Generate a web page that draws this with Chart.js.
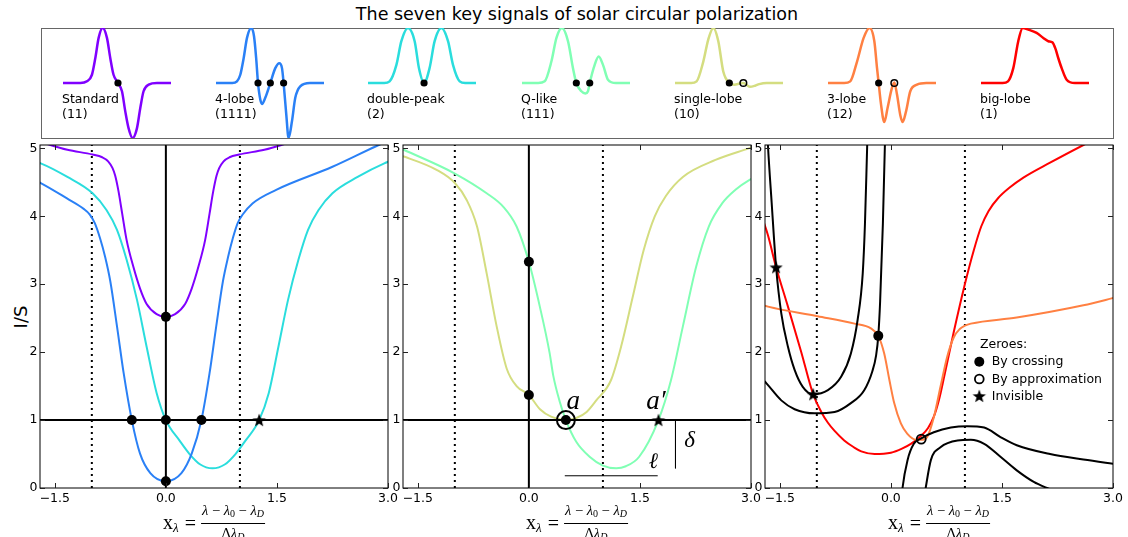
<!DOCTYPE html>
<html><head><meta charset="utf-8">
<script src="https://cdn.jsdelivr.net/npm/chart.js@4/dist/chart.umd.min.js"></script>
<style>
html,body{margin:0;padding:0;background:#fff;}
#root{position:relative;width:1128px;height:537px;overflow:hidden;font-family:"DejaVu Sans",sans-serif;color:#000;}
canvas{position:absolute;}
.title{position:absolute;left:577px;top:4px;transform:translateX(-50%);font-size:17.5px;white-space:nowrap;}
.box{position:absolute;left:41px;top:27.5px;width:1072.5px;height:111.5px;border:1.5px solid #666;box-sizing:border-box;}
.sl{position:absolute;font-size:12.5px;line-height:14.5px;white-space:pre;top:92px;}
.ylab{position:absolute;left:19.5px;top:317px;transform:translate(-50%,-50%) rotate(-90deg);font-size:18px;white-space:nowrap;}
.xlab{position:absolute;top:502px;transform:translateX(-50%);display:flex;align-items:center;font-family:"Liberation Serif","DejaVu Serif",serif;white-space:nowrap;}
.lhs{font-size:20px;}
.lhs sub{font-size:13px;font-style:italic;vertical-align:-3px;}
.eq{font-size:20px;margin:0 5px 0 6px;}
.frac{display:inline-flex;flex-direction:column;align-items:center;font-size:14.5px;line-height:16px;}
.frac sub{font-size:10px;vertical-align:-2px;}
.num{border-bottom:1.4px solid #000;padding:0 1px 1px;}
.den{padding-top:1px;}
</style></head>
<body><div id="root">
<div class="title">The seven key signals of solar circular polarization</div>
<div class="box"></div>
<div class="ylab">I/S</div>
</div>
<script>
// ---------------- DATA ----------------
const sigNames = ["Standard", "4-lobe", "double-peak", "Q-like", "single-lobe", "3-lobe", "big-lobe"];
const sigCodes = ["(11)", "(1111)", "(2)", "(111)", "(10)", "(12)", "(1)"];
const sigColors = ["#8000ff", "#2a80f6", "#2adddd", "#80ffb4", "#d4dd80", "#ff8042", "#ff0000"];

const stdU = [0, 0.16, 0.222, 0.268, 0.299, 0.33, 0.367, 0.407, 0.438, 0.468, 0.509, 0.546, 0.577, 0.607, 0.644, 0.685, 0.716, 0.746, 0.793, 0.87, 1];
const stdV = [0, 0, 0.03, 0.15, 0.45, 0.82, 1.0, 0.82, 0.45, 0.15, 0, -0.15, -0.52, -0.82, -1.0, -0.82, -0.45, -0.15, -0.03, 0, 0];
const fourU = [0, 0.15, 0.194, 0.225, 0.256, 0.287, 0.327, 0.352, 0.372, 0.389, 0.41, 0.426, 0.456, 0.503, 0.549, 0.586, 0.611, 0.626, 0.651, 0.672, 0.703, 0.734, 0.78, 0.87, 1];
const fourV = [0, 0, 0.03, 0.15, 0.45, 0.82, 1.0, 0.85, 0.45, 0, -0.3, -0.38, -0.27, 0, 0.27, 0.36, 0.27, 0, -0.58, -1.0, -0.7, -0.27, -0.06, 0, 0];
const dblU = [0, 0.15, 0.2, 0.263, 0.309, 0.37, 0.432, 0.472, 0.519, 0.57, 0.617, 0.68, 0.741, 0.787, 0.849, 0.9, 1];
const dblV = [0, 0, 0.03, 0.33, 0.76, 1.0, 0.76, 0.27, 0, 0.27, 0.76, 1.0, 0.76, 0.33, 0.03, 0, 0];
const qU = [0, 0.15, 0.21, 0.272, 0.319, 0.37, 0.426, 0.472, 0.503, 0.55, 0.587, 0.611, 0.627, 0.673, 0.71, 0.75, 0.796, 0.87, 1];
const qV = [0, 0, 0.03, 0.39, 0.82, 1.0, 0.76, 0.27, 0, -0.15, -0.19, -0.15, 0, 0.33, 0.48, 0.33, 0.06, 0, 0];
const singU = [0, 0.15, 0.2, 0.262, 0.308, 0.355, 0.401, 0.447, 0.503, 0.55, 0.6, 0.633, 0.694, 0.741, 0.78, 0.849, 1];
const singV = [0, 0, 0.03, 0.39, 0.79, 1.0, 0.76, 0.21, 0, -0.03, -0.01, 0, -0.07, -0.05, -0.02, 0, 0];
const threeU = [0, 0.15, 0.206, 0.269, 0.33, 0.385, 0.429, 0.454, 0.469, 0.491, 0.521, 0.552, 0.592, 0.614, 0.639, 0.669, 0.691, 0.722, 0.762, 0.824, 0.91, 1];
const threeV = [0, 0, 0.03, 0.39, 0.82, 1.0, 0.76, 0.27, 0, -0.39, -0.71, -0.45, -0.09, 0.01, -0.21, -0.58, -0.71, -0.52, -0.15, -0.03, 0, 0];
const bigU = [0, 0.2, 0.25, 0.299, 0.345, 0.386, 0.438, 0.515, 0.577, 0.623, 0.66, 0.69, 0.716, 0.747, 0.793, 0.87, 1];
const bigV = [0, 0, 0.03, 0.27, 0.76, 1.0, 0.97, 0.91, 0.82, 0.76, 0.74, 0.62, 0.45, 0.27, 0.06, 0, 0];
const sigU = [stdU, fourU, dblU, qU, singU, threeU, bigU];
const sigV = [stdV, fourV, dblV, qV, singV, threeV, bigV];
const sigDotU = [[0.509], [0.389, 0.503, 0.626], [0.519], [0.503, 0.627], [0.503], [0.469], []];
const sigOpenU = [[], [], [], [], [0.633], [0.614], []];

const xTicks = [-1.5, 0, 1.5, 3.0];
const xTickLabels = ["\u22121.5", "0.0", "1.5", "3.0"];
const yTicks = [0, 1, 2, 3, 4, 5];
const yTickLabels = ["0", "1", "2", "3", "4", "5"];
const X_MIN = -1.7, X_MAX = 3.0, Y_MIN = 0, Y_MAX = 5.05;

// panel 1
const p1PurpleX = [-1.75, -1.56, -1.33, -0.99, -0.86, -0.78, -0.72, -0.685, -0.64, -0.59, -0.53, -0.44, -0.35, -0.26, -0.125, 0, 0.125, 0.26, 0.35, 0.44, 0.53, 0.59, 0.64, 0.685, 0.72, 0.78, 0.86, 0.99, 1.33, 1.56, 1.75];
const p1PurpleY = [5.12, 5.05, 4.98, 4.91, 4.87, 4.81, 4.71, 4.60, 4.37, 4.04, 3.65, 3.26, 2.94, 2.71, 2.56, 2.52, 2.56, 2.71, 2.94, 3.26, 3.65, 4.04, 4.37, 4.60, 4.71, 4.81, 4.87, 4.91, 4.98, 5.05, 5.12];
const p1BlueX = [-1.75, -1.69, -1.33, -1.11, -1.03, -0.96, -0.89, -0.82, -0.75, -0.66, -0.57, -0.46, -0.35, -0.21, 0, 0.21, 0.35, 0.48, 0.59, 0.68, 0.77, 0.84, 0.905, 0.97, 1.04, 1.17, 1.49, 2.25, 2.875, 3.05];
const p1BlueY = [4.52, 4.49, 4.26, 4.11, 4.03, 3.90, 3.68, 3.40, 3.04, 2.38, 1.69, 1.0, 0.51, 0.22, 0.10, 0.22, 0.51, 1.0, 1.69, 2.38, 3.04, 3.40, 3.68, 3.90, 4.03, 4.19, 4.39, 4.73, 5.05, 5.13];
const p1CyanX = [-1.75, -1.69, -1.33, -0.99, -0.80, -0.66, -0.53, -0.39, -0.26, -0.125, 0, 0.19, 0.32, 0.46, 0.63, 0.80, 0.94, 1.07, 1.26, 1.39, 1.52, 1.65, 1.79, 1.92, 2.06, 2.25, 2.59, 2.95, 3.05];
const p1CyanY = [4.80, 4.78, 4.58, 4.34, 4.09, 3.80, 3.36, 2.77, 2.08, 1.40, 1.0, 0.69, 0.50, 0.35, 0.29, 0.35, 0.50, 0.69, 1.0, 1.40, 2.08, 2.77, 3.36, 3.80, 4.09, 4.34, 4.58, 4.78, 4.82];
const p1DotX = [0, 0, -0.46, 0, 0.48];
const p1DotY = [2.52, 0.10, 1, 1, 1];
const p1StarX = [1.26];
const p1StarY = [1];

// panel 2
const p2MintX = [-1.75, -1.69, -1.0, -0.57, -0.345, -0.166, 0, 0.148, 0.28, 0.33, 0.417, 0.5, 0.64, 0.82, 1.0, 1.18, 1.31, 1.49, 1.75, 1.92, 2.08, 2.26, 2.43, 2.61, 2.79, 2.97, 3.05];
const p2MintY = [5.01, 4.98, 4.63, 4.34, 4.14, 3.85, 3.33, 2.67, 1.99, 1.65, 1.27, 1.0, 0.68, 0.46, 0.33, 0.29, 0.32, 0.46, 1.0, 1.59, 2.38, 3.26, 3.85, 4.19, 4.39, 4.53, 4.57];
const p2YellowX = [-1.75, -1.69, -1.24, -1.0, -0.84, -0.70, -0.57, -0.435, -0.30, -0.166, 0, 0.15, 0.3, 0.5, 0.64, 0.78, 0.91, 1.11, 1.25, 1.40, 1.55, 1.70, 1.85, 2.08, 2.52, 2.97, 3.05];
const p2YellowY = [4.90, 4.88, 4.68, 4.49, 4.24, 3.85, 3.16, 2.38, 1.76, 1.50, 1.37, 1.16, 1.05, 1.0, 1.03, 1.12, 1.29, 1.59, 2.1, 2.8, 3.5, 4.0, 4.3, 4.58, 4.83, 5.0, 5.03];
const p2DotX = [0, 0, 0.5];
const p2DotY = [3.33, 1.37, 1.0];
const p2RingX = [0.5];
const p2RingY = [1.0];
const p2StarX = [1.75];
const p2StarY = [1.0];
const p2EllX = [0.485, 1.74];
const p2EllY = [0.18, 0.18];
const p2DeltaX = [1.98, 1.98];
const p2DeltaY = [1.0, 0.29];
const annText = ["a", "a\u2032", "\u2113", "\u03b4"];
const annX = [0.598, 1.715, 1.68, 2.17];
const annY = [1.17, 1.17, 0.30, 0.61];

// panel 3
const p3RedX = [-1.75, -1.66, -1.55, -1.39, -1.21, -1.05, -0.94, -0.85, -0.76, -0.63, -0.50, -0.40, -0.22, 0.0, 0.15, 0.27, 0.40, 0.50, 0.58, 0.65, 0.72, 0.85, 0.99, 1.12, 1.22, 1.32, 1.45, 1.60, 1.79, 2.15, 2.60, 3.05];
const p3RedY = [4.02, 3.72, 3.25, 2.67, 2.00, 1.38, 1.12, 0.96, 0.84, 0.70, 0.60, 0.54, 0.50, 0.52, 0.58, 0.65, 0.76, 0.88, 1.05, 1.30, 1.64, 2.30, 2.96, 3.50, 3.85, 4.08, 4.27, 4.42, 4.57, 4.79, 5.05, 5.3];
const p3OrangeX = [-1.75, -1.66, -0.99, -0.49, -0.27, -0.17, -0.09, -0.02, 0.045, 0.135, 0.22, 0.34, 0.41, 0.49, 0.58, 0.67, 0.76, 0.85, 0.93, 1.0, 1.08, 1.70, 2.60, 3.05];
const p3OrangeY = [2.70, 2.67, 2.53, 2.42, 2.35, 2.24, 1.98, 1.59, 1.25, 0.95, 0.80, 0.71, 0.71, 0.75, 1.04, 1.49, 1.93, 2.22, 2.34, 2.39, 2.42, 2.51, 2.69, 2.81];
const p3Black1X = [-1.685, -1.66, -1.61, -1.55, -1.48, -1.39, -1.30, -1.19, -1.05, -0.85, -0.67, -0.54, -0.45, -0.38, -0.35, -0.32, -0.305];
const p3Black1Y = [5.6, 5.04, 4.2, 3.25, 2.57, 2.08, 1.74, 1.49, 1.38, 1.44, 1.64, 1.98, 2.47, 3.16, 3.89, 5.04, 5.6];
const p3Black2X = [-1.75, -1.68, -1.48, -1.30, -1.03, -0.76, -0.54, -0.36, -0.25, -0.20, -0.17, -0.145, -0.108, -0.081, -0.07];
const p3Black2Y = [1.62, 1.54, 1.29, 1.16, 1.10, 1.12, 1.25, 1.44, 1.72, 1.95, 2.24, 2.75, 3.89, 5.04, 5.6];
const p3Black3X = [0.14, 0.157, 0.225, 0.31, 0.41, 0.58, 0.81, 1.03, 1.26, 1.48, 1.70, 2.15, 2.60, 3.05];
const p3Black3Y = [-0.2, 0, 0.41, 0.65, 0.73, 0.82, 0.89, 0.91, 0.89, 0.75, 0.63, 0.50, 0.42, 0.35];
const p3Black4X = [0.455, 0.47, 0.54, 0.67, 0.90, 1.08, 1.26, 1.48, 1.70, 1.93, 2.11, 2.3];
const p3Black4Y = [-0.1, 0, 0.41, 0.60, 0.70, 0.71, 0.65, 0.46, 0.26, 0.09, 0.0, -0.08];
const p3DotX = [-0.17];
const p3DotY = [2.24];
const p3OpenX = [0.41];
const p3OpenY = [0.72];
const p3StarX = [-1.55, -1.05];
const p3StarY = [3.25, 1.38];

const vLines = [0];
const hLines = [1];
const dottedX = [-1, 1];
const legendTitle = "Zeroes:";
const legendLabels = ["By crossing", "By approximation", "Invisible"];

// ---------------- HELPERS ----------------
Chart.defaults.font.family = '"DejaVu Sans", sans-serif';
Chart.defaults.font.size = 12.5;
Chart.defaults.color = '#000';
const root = document.getElementById('root');
const pts = (xs, ys) => xs.map((x, i) => ({x, y: ys[i]}));

function makeStar(r) {
  const c = document.createElement('canvas');
  const s = Math.ceil(r * 2 + 2);
  c.width = s; c.height = s;
  const g = c.getContext('2d');
  g.translate(s / 2, s / 2 + 0.6);
  g.beginPath();
  for (let k = 0; k < 10; k++) {
    const rr = k % 2 ? r * 0.42 : r;
    const a = -Math.PI / 2 + k * Math.PI / 5;
    g.lineTo(rr * Math.cos(a), rr * Math.sin(a));
  }
  g.closePath(); g.fillStyle = '#000'; g.fill();
  return c;
}
const starImg = makeStar(7);

function curve(xs, ys, color, width) {
  return {data: pts(xs, ys), showLine: true, borderColor: color, borderWidth: width || 2,
    pointRadius: 0, pointHoverRadius: 0, cubicInterpolationMode: 'monotone', fill: false, order: 2};
}
function straight(xs, ys, width, dash, order) {
  return {data: pts(xs, ys), showLine: true, borderColor: '#000', borderWidth: width,
    borderDash: dash || [], pointRadius: 0, pointHoverRadius: 0, tension: 0, fill: false, order: order};
}
function dots(xs, ys, r) {
  return {data: pts(xs, ys), showLine: false, pointRadius: r || 5, pointHoverRadius: r || 5,
    pointBackgroundColor: '#000', pointBorderColor: '#000', pointBorderWidth: 0, order: 0};
}
function rings(xs, ys, r, w) {
  return {data: pts(xs, ys), showLine: false, pointRadius: r, pointHoverRadius: r,
    pointBackgroundColor: 'rgba(0,0,0,0)', pointBorderColor: '#000', pointBorderWidth: w, order: 0};
}
function stars(xs, ys) {
  return {data: pts(xs, ys), showLine: false, pointStyle: starImg, pointRadius: 7, pointHoverRadius: 7, order: 0};
}
function guideLines(withAxes) {
  const out = [];
  dottedX.forEach(v => out.push(straight([v, v], [Y_MIN, Y_MAX], 2, [2, 4], 3)));
  if (withAxes) {
    vLines.forEach(v => out.push(straight([v, v], [Y_MIN, Y_MAX], 2, [], 1)));
    hLines.forEach(v => out.push(straight([X_MIN, X_MAX], [v, v], 2, [], 1)));
  }
  return out;
}

const framePlugin = {
  id: 'frame',
  afterDatasetsDraw(chart) {
    const {ctx, chartArea: a, scales: {x, y}} = chart;
    ctx.save();
    ctx.strokeStyle = '#000'; ctx.lineWidth = 1;
    ctx.strokeRect(a.left, a.top, a.right - a.left, a.bottom - a.top);
    const L = 5;
    ctx.beginPath();
    x.ticks.forEach(t => {
      const p = Math.round(x.getPixelForValue(t.value)) + 0.5;
      ctx.moveTo(p, a.bottom); ctx.lineTo(p, a.bottom - L);
      ctx.moveTo(p, a.top); ctx.lineTo(p, a.top + L);
    });
    y.ticks.forEach(t => {
      const p = Math.round(y.getPixelForValue(t.value)) + 0.5;
      ctx.moveTo(a.left, p); ctx.lineTo(a.left + L, p);
      ctx.moveTo(a.right, p); ctx.lineTo(a.right - L, p);
    });
    ctx.strokeStyle = '#222'; ctx.stroke();
    ctx.restore();
  }
};

const annPlugin = {
  id: 'ann',
  afterDatasetsDraw(chart) {
    const {ctx, scales: {x, y}} = chart;
    const sizes = [27, 27, 22, 23];
    ctx.save(); ctx.fillStyle = '#000'; ctx.textAlign = 'center'; ctx.textBaseline = 'alphabetic';
    annText.forEach((t, i) => {
      ctx.font = 'italic ' + sizes[i] + 'px "Liberation Serif", serif';
      ctx.fillText(t, x.getPixelForValue(annX[i]), y.getPixelForValue(annY[i]));
    });
    ctx.restore();
  }
};

const legendPlugin = {
  id: 'zeroLegend',
  afterDatasetsDraw(chart) {
    const {ctx, chartArea: a} = chart;
    ctx.save();
    ctx.font = '12.5px "DejaVu Sans", sans-serif'; ctx.fillStyle = '#000';
    ctx.textAlign = 'left'; ctx.textBaseline = 'middle';
    ctx.fillText(legendTitle, a.left + 215, a.top + 200);
    const mx = a.left + 214.3, tx = a.left + 226.7;
    const rows = [a.top + 216.7, a.top + 234, a.top + 251];
    ctx.beginPath(); ctx.arc(mx, rows[0], 5, 0, Math.PI * 2); ctx.fill();
    ctx.beginPath(); ctx.arc(mx, rows[1], 4.4, 0, Math.PI * 2); ctx.lineWidth = 1.8; ctx.strokeStyle = '#000'; ctx.stroke();
    ctx.drawImage(starImg, mx - starImg.width / 2, rows[2] - starImg.height / 2);
    legendLabels.forEach((t, i) => ctx.fillText(t, tx, rows[i] + 0.5));
    ctx.restore();
  }
};

function panel(plotLeft, datasets, plugins) {
  const c = document.createElement('canvas');
  c.width = 404; c.height = 387;
  c.style.left = (plotLeft - 40) + 'px'; c.style.top = '133px';
  root.appendChild(c);
  new Chart(c, {
    type: 'scatter',
    data: {datasets},
    options: {
      responsive: false, animation: false, devicePixelRatio: 1, events: [],
      layout: {padding: {top: 12, right: 16, left: 0, bottom: 0}},
      plugins: {legend: {display: false}, tooltip: {enabled: false}},
      scales: {
        x: {type: 'linear', min: X_MIN, max: X_MAX,
          grid: {display: false, drawTicks: false}, border: {display: false},
          afterBuildTicks: s => { s.ticks = xTicks.map(v => ({value: v})); },
          afterFit: s => { s.height = 32; },
          ticks: {padding: 3, maxRotation: 0, autoSkip: false, color: '#000',
            callback: (v, i) => xTickLabels[i]}},
        y: {type: 'linear', min: Y_MIN, max: Y_MAX,
          grid: {display: false, drawTicks: false}, border: {display: false},
          afterBuildTicks: s => { s.ticks = yTicks.map(v => ({value: v})); },
          afterFit: s => { s.width = 40; },
          ticks: {padding: 2.5, autoSkip: false, color: '#000',
            callback: (v, i) => yTickLabels[i]}}
      }
    },
    plugins: [framePlugin].concat(plugins || [])
  });
}

function formula(cx) {
  const d = document.createElement('div');
  d.className = 'xlab'; d.style.left = cx + 'px';
  d.innerHTML = '<span class="lhs">x<sub>\u03bb</sub></span><span class="eq">=</span>' +
    '<span class="frac"><span class="num"><i>\u03bb</i> \u2212 <i>\u03bb</i><sub>0</sub> \u2212 <i>\u03bb</i><sub><i>D</i></sub></span>' +
    '<span class="den">\u0394<i>\u03bb</i><sub><i>D</i></sub></span></span>';
  root.appendChild(d);
}

// ---------------- TOP: seven signals ----------------
const sigLeft = [63, 216, 368, 522, 675, 828, 981];
sigNames.forEach((name, i) => {
  const c = document.createElement('canvas');
  c.width = 120; c.height = 122;
  c.style.left = (sigLeft[i] - 6) + 'px'; c.style.top = '22px';
  root.appendChild(c);
  new Chart(c, {
    type: 'scatter',
    data: {datasets: [
      dots(sigDotU[i], sigDotU[i].map(() => 0), 3.6),
      rings(sigOpenU[i], sigOpenU[i].map(() => 0), 3.3, 1.5),
      Object.assign(curve(sigU[i], sigV[i], sigColors[i], 2.5), {order: 2})
    ]},
    options: {
      responsive: false, animation: false, devicePixelRatio: 1, events: [],
      layout: {padding: 6},
      plugins: {legend: {display: false}, tooltip: {enabled: false}},
      scales: {x: {display: false, min: 0, max: 1}, y: {display: false, min: -1, max: 1}}
    }
  });
  const l = document.createElement('div');
  l.className = 'sl'; l.style.left = (sigLeft[i] - 1) + 'px';
  l.textContent = name + '\n' + sigCodes[i];
  root.appendChild(l);
});

// ---------------- BOTTOM PANELS ----------------
panel(40, [
  dots(p1DotX, p1DotY), stars(p1StarX, p1StarY),
  ...guideLines(true),
  curve(p1PurpleX, p1PurpleY, sigColors[0]),
  curve(p1BlueX, p1BlueY, sigColors[1]),
  curve(p1CyanX, p1CyanY, sigColors[2])
]);
panel(403, [
  dots(p2DotX, p2DotY), rings(p2RingX, p2RingY, 9, 2), stars(p2StarX, p2StarY),
  straight(p2EllX, p2EllY, 1, [], 1), straight(p2DeltaX, p2DeltaY, 1, [], 1),
  ...guideLines(true),
  curve(p2MintX, p2MintY, sigColors[3]),
  curve(p2YellowX, p2YellowY, sigColors[4])
], [annPlugin]);
panel(765, [
  dots(p3DotX, p3DotY), rings(p3OpenX, p3OpenY, 4.5, 1.8), stars(p3StarX, p3StarY),
  ...guideLines(false),
  curve(p3Black1X, p3Black1Y, '#000'),
  curve(p3Black2X, p3Black2Y, '#000'),
  curve(p3Black3X, p3Black3Y, '#000'),
  curve(p3Black4X, p3Black4Y, '#000'),
  curve(p3OrangeX, p3OrangeY, sigColors[5]),
  curve(p3RedX, p3RedY, sigColors[6])
], [legendPlugin]);

formula(214); formula(577); formula(939);
</script>
</body></html>
